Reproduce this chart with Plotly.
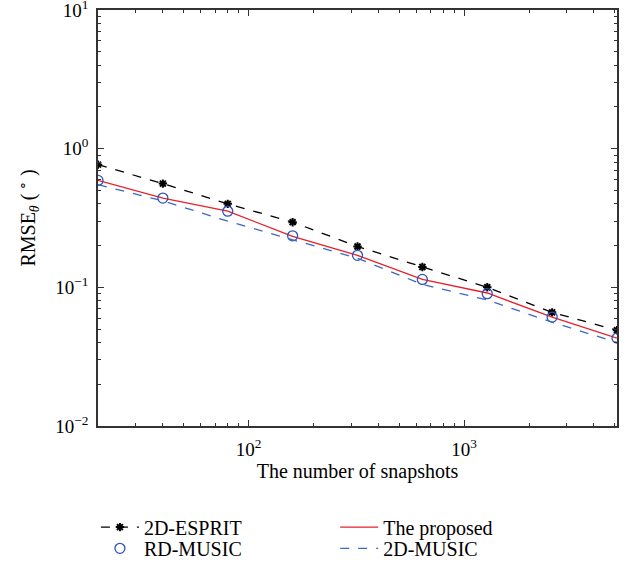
import plotly.graph_objects as go

# Number of snapshots (doubling each step)
snapshots = [20, 40, 80, 160, 320, 640, 1280, 2560, 5120]

# RMSE of elevation angle (degrees) for each method
rmse_esprit_2d = [0.767, 0.56, 0.40, 0.295, 0.197, 0.14, 0.100, 0.066, 0.049]
rmse_proposed = [0.59, 0.44, 0.354, 0.233, 0.17, 0.114, 0.091, 0.061, 0.043]
rmse_rd_music = [0.59, 0.44, 0.354, 0.235, 0.17, 0.114, 0.090, 0.061, 0.043]
rmse_music_2d = [0.55, 0.42, 0.30, 0.22, 0.162, 0.105, 0.081, 0.056, 0.040]

y_tickvals = [0.01, 0.1, 1, 10]
y_ticktext = ["10<sup>\u22122</sup>", "10<sup>\u22121</sup>", "10<sup>0</sup>", "10<sup>1</sup>"]
x_tickvals = [100, 1000]
x_ticktext = ["10<sup>2</sup>", "10<sup>3</sup>"]

FONT = "Liberation Serif, Times New Roman, serif"

fig = go.Figure()

# Each series gets its own one-item legend so the 2x2 key can be laid out freely
fig.add_trace(go.Scatter(
    x=snapshots, y=rmse_esprit_2d, name="2D-ESPRIT", mode="lines+markers",
    line=dict(color="black", width=1.3, dash="dash"),
    marker=dict(symbol="asterisk-open", size=7, color="black",
                line=dict(color="black", width=2)),
    legend="legend",
))
fig.add_trace(go.Scatter(
    x=snapshots, y=rmse_proposed, name="The proposed", mode="lines",
    line=dict(color="#e8202a", width=1.3),
    legend="legend2",
))
fig.add_trace(go.Scatter(
    x=snapshots, y=rmse_rd_music, name="RD-MUSIC", mode="markers",
    marker=dict(symbol="circle-open", size=10, color="#2f52b8",
                line=dict(color="#2f52b8", width=1.3)),
    legend="legend3",
))
fig.add_trace(go.Scatter(
    x=snapshots, y=rmse_music_2d, name="2D-MUSIC", mode="lines",
    line=dict(color="#3b68c4", width=1.3, dash="dash"),
    legend="legend4",
))

axis_common = dict(
    showgrid=False, zeroline=False,
    showline=True, linecolor="#333333", linewidth=1.5, mirror="allticks",
    ticks="inside", ticklen=6, tickwidth=1.2, tickcolor="#333333",
    tickfont=dict(family=FONT, size=19, color="black"),
    ticklabeloverflow="allow",
)

fig.update_xaxes(
    type="log", range=[1.30103, 3.70927],
    tickvals=x_tickvals, ticktext=x_ticktext,
    minor=dict(ticks="inside", ticklen=3, tickwidth=1, tickcolor="#333333",
               tickvals=[30, 40, 50, 60, 70, 80, 90, 200, 300, 400, 500, 600,
                         700, 800, 900, 2000, 3000, 4000, 5000]),
    title=dict(text="The number of snapshots", font=dict(family=FONT, size=20, color="black"),
               standoff=4),
    ticklabelstandoff=5,
    **axis_common,
)
fig.update_yaxes(
    type="log", range=[-2.0005, 1.0005],
    tickvals=y_tickvals, ticktext=y_ticktext,
    minor=dict(ticks="inside", ticklen=3, tickwidth=1, tickcolor="#333333",
               tickvals=[m * 10 ** e for e in (-2, -1, 0) for m in range(2, 10)]),
    title=dict(text="RMSE<sub><i>\u03b8</i></sub> (<sup> \u2218</sup> )",
               font=dict(family=FONT, size=20, color="black"), standoff=14),
    ticklabelstandoff=4,
    **axis_common,
)

legend_common = dict(
    orientation="v", yanchor="middle", xanchor="left",
    font=dict(family=FONT, size=20, color="black"),
    bgcolor="rgba(0,0,0,0)", itemwidth=38,
)
row1, row2 = -0.243, -0.294
col1, col2 = -0.004, 0.457

fig.update_layout(
    width=637, height=574,
    margin=dict(l=98, r=20, t=10, b=148, autoexpand=False),
    paper_bgcolor="white", plot_bgcolor="white",
    font=dict(family=FONT, size=20, color="black"),
    showlegend=True,
    legend=dict(x=col1, y=row1, **legend_common),
    legend2=dict(x=col2, y=row1, **legend_common),
    legend3=dict(x=col1, y=row2, **legend_common),
    legend4=dict(x=col2, y=row2, **legend_common),
)

fig.write_html("out.html")
